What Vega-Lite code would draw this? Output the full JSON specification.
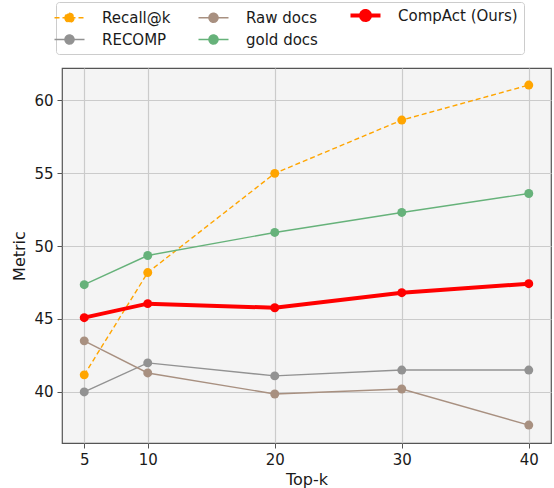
{
  "$schema": "https://vega.github.io/schema/vega-lite/v6.json",
  "autosize": "none",
  "padding": {"left": 62, "top": 68, "right": 3, "bottom": 45},
  "width": 489,
  "height": 375,
  "data": {
    "values": [
      {"k": 5, "series": "Recall@k", "value": 41.17},
      {"k": 10, "series": "Recall@k", "value": 48.18},
      {"k": 20, "series": "Recall@k", "value": 54.98},
      {"k": 30, "series": "Recall@k", "value": 58.63},
      {"k": 40, "series": "Recall@k", "value": 61.03},
      {"k": 5, "series": "RECOMP", "value": 40.0},
      {"k": 10, "series": "RECOMP", "value": 41.99},
      {"k": 20, "series": "RECOMP", "value": 41.1},
      {"k": 30, "series": "RECOMP", "value": 41.5},
      {"k": 40, "series": "RECOMP", "value": 41.5},
      {"k": 5, "series": "Raw docs", "value": 43.5},
      {"k": 10, "series": "Raw docs", "value": 41.3},
      {"k": 20, "series": "Raw docs", "value": 39.86},
      {"k": 30, "series": "Raw docs", "value": 40.2},
      {"k": 40, "series": "Raw docs", "value": 37.73},
      {"k": 5, "series": "gold docs", "value": 47.35},
      {"k": 10, "series": "gold docs", "value": 49.35},
      {"k": 20, "series": "gold docs", "value": 50.93},
      {"k": 30, "series": "gold docs", "value": 52.3},
      {"k": 40, "series": "gold docs", "value": 53.6},
      {"k": 5, "series": "CompAct (Ours)", "value": 45.09},
      {"k": 10, "series": "CompAct (Ours)", "value": 46.05},
      {"k": 20, "series": "CompAct (Ours)", "value": 45.77},
      {"k": 30, "series": "CompAct (Ours)", "value": 46.8},
      {"k": 40, "series": "CompAct (Ours)", "value": 47.42}
    ]
  },
  "config": {
    "font": "DejaVu Sans",
    "view": {"fill": "#f4f4f4", "stroke": "#555555", "strokeWidth": 1.2},
    "axis": {
      "domain": false,
      "grid": true,
      "gridColor": "#cbcbcb",
      "gridWidth": 1.2,
      "tickColor": "#555555",
      "tickSize": 5,
      "tickWidth": 1,
      "labelFontSize": 15,
      "labelColor": "#1a1a1a",
      "labelPadding": 4,
      "titleFontSize": 16,
      "titleFontWeight": "normal",
      "titleColor": "#1a1a1a"
    }
  },
  "encoding": {
    "x": {
      "field": "k",
      "type": "quantitative",
      "title": "Top-k",
      "scale": {"domain": [3.25, 41.75], "nice": false, "zero": false},
      "axis": {"values": [5, 10, 20, 30, 40], "titlePadding": 4}
    },
    "y": {
      "field": "value",
      "type": "quantitative",
      "title": "Metric",
      "scale": {"domain": [36.5, 62.2], "nice": false, "zero": false},
      "axis": {"values": [40, 45, 50, 55, 60], "titlePadding": 6}
    },
    "color": {
      "field": "series",
      "type": "nominal",
      "scale": {
        "domain": ["Recall@k", "RECOMP", "Raw docs", "gold docs", "CompAct (Ours)"],
        "range": ["#ffa500", "#929292", "#a89080", "#66b27a", "#ff0000"]
      },
      "legend": {
        "title": null,
        "values": ["Recall@k", "RECOMP", "Raw docs", "gold docs", "CompAct (Ours)"],
        "orient": "none",
        "legendX": -6,
        "legendY": -66,
        "columns": 3,
        "columnPadding": 24,
        "rowPadding": 4,
        "padding": 6,
        "labelFontSize": 15,
        "labelColor": "#1a1a1a",
        "labelOffset": 25,
        "symbolType": "M-1,0H1M-0.3,0A0.3,0.3 0 1,0 0.3,0A0.3,0.3 0 1,0 -0.3,0Z",
        "symbolSize": 900,
        "symbolStrokeWidth": 1.5,
        "strokeColor": "#cccccc",
        "cornerRadius": 3,
        "fillColor": "#ffffff",
        "encode": {
          "symbols": {
            "update": {
              "fill": {"signal": "scale('color', datum.value)"},
              "stroke": {"signal": "scale('color', datum.value)"},
              "strokeDash": {"signal": "datum.value === 'Recall@k' ? [5, 3] : [1, 0]"},
              "strokeWidth": {"signal": "datum.value === 'CompAct (Ours)' ? 4 : 1.5"}
            }
          }
        }
      }
    }
  },
  "layer": [
    {
      "transform": [{"filter": "datum.series === 'Recall@k'"}],
      "mark": {"type": "line", "strokeWidth": 1.4, "strokeDash": [5, 3]},
      "encoding": {}
    },
    {
      "transform": [{"filter": "datum.series !== 'Recall@k' && datum.series !== 'CompAct (Ours)'"}],
      "mark": {"type": "line", "strokeWidth": 1.4},
      "encoding": {}
    },
    {
      "transform": [{"filter": "datum.series === 'CompAct (Ours)'"}],
      "mark": {"type": "line", "strokeWidth": 4},
      "encoding": {}
    },
    {
      "mark": {"type": "point", "filled": true, "shape": "circle", "size": 80, "opacity": 1}
    }
  ]
}
